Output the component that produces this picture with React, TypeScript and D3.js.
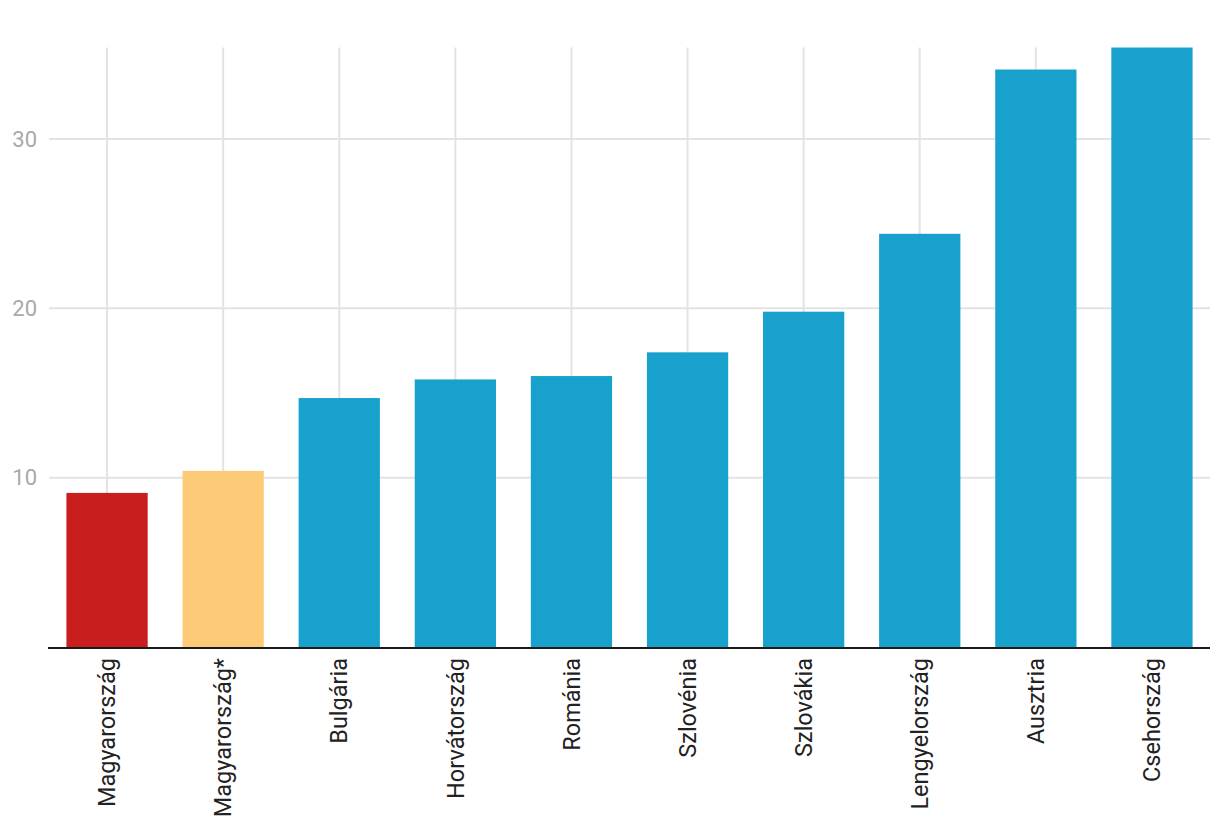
import React from "react";
import * as d3 from "d3";

const categories = ["Magyarország", "Magyarország*", "Bulgária", "Horvátország", "Románia", "Szlovénia", "Szlovákia", "Lengyelország", "Ausztria", "Csehország"];
const values = [9.1, 10.4, 14.7, 15.8, 16.0, 17.4, 19.8, 24.4, 34.1, 35.4];
const barColors = ["#C81E1E", "#FDCA78", "#19A1CD", "#19A1CD", "#19A1CD", "#19A1CD", "#19A1CD", "#19A1CD", "#19A1CD", "#19A1CD"];
const yTicks = [10, 20, 30];

const W = 1220;
const H = 838;
const left = 49;
const right = 1210;
const top = 47.5;
const bottom = 647;

export default function App() {
  const x = d3.scaleBand<string>().domain(categories).range([left, right]).paddingInner(0.3).paddingOuter(0.15);
  const y = d3.scaleLinear().domain([0, d3.max(values) as number]).range([bottom, top]);
  const font = "Roboto, 'Noto Sans', sans-serif";
  return (
    <svg width={W} height={H} style={{ position: "absolute", left: 0, top: 0, background: "#fff" }}>
      {yTicks.map((t) => (
        <g key={t}>
          <line x1={left} x2={right} y1={y(t)} y2={y(t)} stroke="#e3e3e3" strokeWidth={2} />
          <text x={37} y={y(t)} dy="0.35em" textAnchor="end" fill="#a9a9a9" fontSize={22} fontFamily={font}>{t}</text>
        </g>
      ))}
      {categories.map((c) => {
        const cx = (x(c) as number) + x.bandwidth() / 2;
        return <line key={c} x1={cx} x2={cx} y1={top} y2={bottom} stroke="#e3e3e3" strokeWidth={2} />;
      })}
      {categories.map((c, i) => (
        <rect key={c} x={x(c)} y={y(values[i])} width={x.bandwidth()} height={bottom - y(values[i])} fill={barColors[i]} />
      ))}
      <line x1={left - 1} x2={right} y1={bottom + 1} y2={bottom + 1} stroke="#1a1a1a" strokeWidth={2} />
      {categories.map((c) => {
        const cx = (x(c) as number) + x.bandwidth() / 2;
        return (
          <text key={c} transform={`translate(${cx},${bottom + 11}) rotate(-90)`} textAnchor="end" dy="0.35em" fill="#222" fontSize={23.5} fontFamily={font}>{c}</text>
        );
      })}
    </svg>
  );
}
